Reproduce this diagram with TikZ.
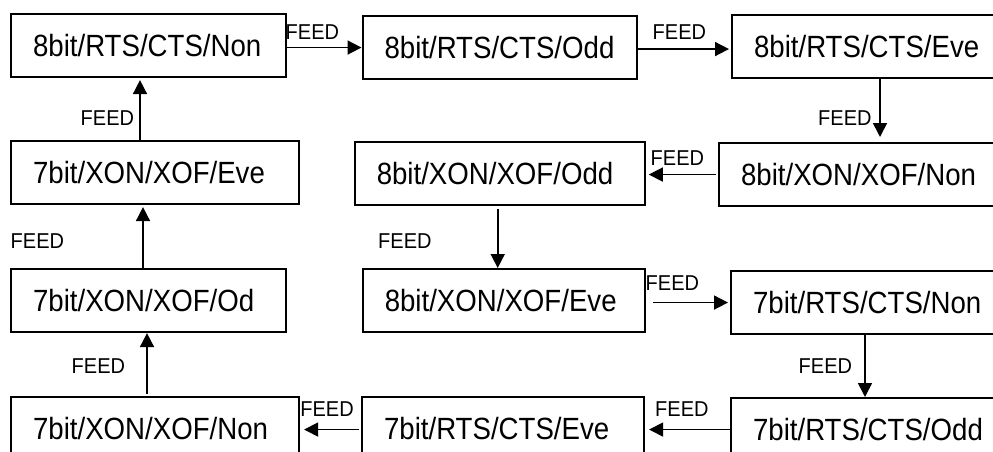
\documentclass[tikz,border=0pt]{standalone}
\usepackage{fontspec}
\setmainfont{Liberation Sans}
\newfontfamily\boxfont[FakeStretch=0.9]{Liberation Sans}
\newfontfamily\lblfont[FakeStretch=0.93]{Liberation Sans}
\usetikzlibrary{arrows.meta}
\begin{document}
\begin{tikzpicture}[x=1pt,y=-1pt,
  stbox/.style={draw, line width=2.1pt, anchor=north west, minimum height=63pt,
    inner xsep=22pt, inner ysep=0pt, text width=#1, align=left,
    text height=22pt, text depth=0pt, font=\boxfont\fontsize{30.7}{34}\selectfont},
  arr/.style={line width=1.7pt, -{Triangle[length=14pt,width=14pt]}},
  lbl/.style={anchor=base west, inner sep=0pt, font=\lblfont\fontsize{21.5}{24}\selectfont}]
\useasboundingbox (0,0) rectangle (993,452);
\clip (0,0) rectangle (993,452);
% boxes
\node[stbox=231pt]   (A) at (10,13)     {8bit/RTS/CTS/Non};
\node[stbox=230.5pt] (B) at (361.5,15)  {8bit/RTS/CTS/Odd};
\node[stbox=256pt]   (C) at (731,14)    {8bit/RTS/CTS/Eve};
\node[stbox=244pt]   (D) at (10,140)    {7bit/XON/XOF/Eve};
\node[stbox=246pt]   (E) at (353.7,141) {8bit/XON/XOF/Odd};
\node[stbox=256pt]   (F) at (718,142)   {8bit/XON/XOF/Non};
\node[stbox=231pt]   (G) at (10,268)    {7bit/XON/XOF/Od};
\node[stbox=238pt]   (H) at (361.7,268) {8bit/XON/XOF/Eve};
\node[stbox=256pt]   (I) at (730,270)   {7bit/RTS/CTS/Non};
\node[stbox=244pt]   (J) at (10,396)    {7bit/XON/XOF/Non};
\node[stbox=238pt]   (K) at (361,396)   {7bit/RTS/CTS/Eve};
\node[stbox=256pt]   (L) at (730,397)   {7bit/RTS/CTS/Odd};
% connectors
\draw[arr] (A.east |- B.west) -- (B.west);
\draw[arr, shorten >=2pt] ([yshift=-1.5pt]B.east) -- ([yshift=-1.5pt]B.east -| C.west);
\draw[arr, shorten >=5pt] ([xshift=149pt]C.south west) -- ([xshift=149pt]C.south west |- F.north);
\draw[arr, shorten <=2pt, shorten >=3pt] (F.west) -- (F.west -| E.east);
\draw[arr, shorten <=3pt] ([xshift=144pt]E.south west) -- ([xshift=144pt]E.south west |- H.north);
\draw[arr, shorten <=7pt, shorten >=2pt] (H.east |- I.west) -- (I.west);
\draw[arr] ([xshift=135pt]I.south west) -- ([xshift=135pt]I.south west |- L.north);
\draw[arr, shorten >=4pt] (L.west) -- (L.west -| K.east);
\draw[arr, shorten <=2pt, shorten >=4pt] ([yshift=-1pt]K.west) -- ([yshift=-1pt]K.west -| J.east);
\draw[arr, shorten <=2pt] ([xshift=137pt]J.north west) -- ([xshift=137pt]J.north west |- G.south);
\draw[arr, shorten >=2pt] ([xshift=133pt]G.north west) -- ([xshift=133pt]G.north west |- D.south);
\draw[arr, shorten >=2pt] ([xshift=130pt]D.north west) -- ([xshift=130pt]D.north west |- A.south);
% labels
\node[lbl] (l1)  at (285.5,40)  {FEED};
\node[lbl] (l2)  at (652.5,40)  {FEED};
\node[lbl] (l3)  at (818,125)   {FEED};
\node[lbl] (l4)  at (650.5,165) {FEED};
\node[lbl] (l5)  at (378,248)   {FEED};
\node[lbl] (l6)  at (645.5,290.5) {FEED};
\node[lbl] (l7)  at (798.5,373) {FEED};
\node[lbl] (l8)  at (655,416)   {FEED};
\node[lbl] (l9)  at (300.2,416) {FEED};
\node[lbl] (l10) at (71.5,373)  {FEED};
\node[lbl] (l11) at (10.5,248)  {FEED};
\node[lbl] (l12) at (80.5,125)  {FEED};
\end{tikzpicture}
\end{document}
